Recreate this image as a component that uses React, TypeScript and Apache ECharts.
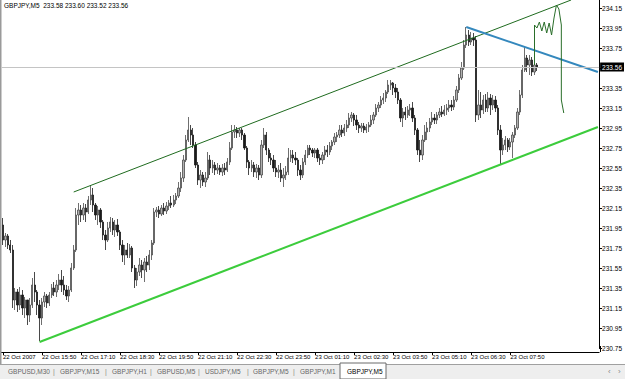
import React, { useEffect, useRef } from "react";
import * as echarts from "echarts";

const symbolTitle = "GBPJPY,M5  233.58 233.60 233.52 233.56";
const lastPrice = 233.56;

const timeTickLabels = [
  "22 Oct 2007", "22 Oct 15:50", "22 Oct 17:10", "22 Oct 18:30", "22 Oct 19:50",
  "22 Oct 21:10", "22 Oct 22:30", "22 Oct 23:50", "23 Oct 01:10", "23 Oct 02:30",
  "23 Oct 03:50", "23 Oct 05:10", "23 Oct 06:30", "23 Oct 07:50",
];

// [open, close, low, high]
const ohlc: number[][] = [
  [231.98,231.83,231.78,232.05],[231.83,231.87,231.76,231.90],[231.87,231.78,231.74,231.89],[231.78,231.73,231.70,231.83],
  [231.73,231.23,231.15,231.78],[231.23,231.31,231.13,231.35],[231.31,231.18,231.11,231.34],[231.18,231.28,231.13,231.36],
  [231.28,231.15,231.08,231.33],[231.15,231.23,231.05,231.26],[231.23,231.08,230.98,231.21],[231.08,231.18,231.01,231.25],
  [231.18,231.38,231.15,231.45],[231.38,231.31,231.21,231.51],[231.31,231.18,231.08,231.33],[231.18,231.05,230.82,231.23],
  [231.05,231.21,230.98,231.25],[231.21,231.27,231.16,231.31],[231.27,231.20,231.15,231.29],[231.20,231.28,231.17,231.31],
  [231.28,231.35,231.25,231.39],[231.35,231.31,231.27,231.41],[231.31,231.38,231.26,231.43],[231.38,231.43,231.33,231.49],
  [231.43,231.38,231.31,231.53],[231.38,231.33,231.28,231.47],[231.33,231.27,231.23,231.38],[231.27,231.33,231.21,231.37],
  [231.33,231.55,231.31,231.60],[231.55,231.73,231.53,231.78],[231.73,232.08,231.71,232.15],[232.08,232.13,231.98,232.20],
  [232.13,232.08,232.01,232.18],[232.08,232.15,232.03,232.20],[232.15,232.11,232.01,232.19],[232.11,232.23,232.09,232.27],
  [232.23,232.28,232.18,232.38],[232.28,232.18,232.11,232.35],[232.18,232.08,232.03,232.20],[232.08,232.13,231.98,232.17],
  [232.13,232.01,231.95,232.15],[232.01,231.88,231.83,232.03],[231.88,231.83,231.73,231.93],[231.83,231.95,231.81,232.01],
  [231.95,232.01,231.91,232.06],[232.01,231.93,231.88,232.05],[231.93,231.98,231.86,232.03],[231.98,231.91,231.87,232.04],
  [231.91,231.78,231.73,231.93],[231.78,231.68,231.61,231.83],[231.68,231.73,231.58,231.78],[231.73,231.68,231.65,231.80],
  [231.68,231.75,231.65,231.79],[231.75,231.55,231.51,231.77],[231.55,231.43,231.35,231.58],[231.43,231.51,231.37,231.55],
  [231.51,231.58,231.47,231.65],[231.58,231.53,231.45,231.63],[231.53,231.61,231.41,231.65],[231.61,231.58,231.51,231.67],
  [231.58,231.68,231.53,231.73],[231.68,231.80,231.63,231.83],[231.80,232.11,231.78,232.15],[232.11,232.13,232.06,232.16],
  [232.13,232.09,232.05,232.17],[232.09,232.15,232.07,232.18],[232.15,232.12,232.08,232.20],[232.12,232.17,232.09,232.21],
  [232.17,232.20,232.13,232.23],[232.20,232.18,232.15,232.27],[232.18,232.23,232.16,232.28],[232.23,232.27,232.19,232.30],
  [232.27,232.35,232.25,232.41],[232.35,232.45,232.31,232.51],[232.45,232.63,232.41,232.68],[232.63,232.83,232.61,232.88],
  [232.83,232.93,232.81,233.06],[232.93,232.88,232.78,232.98],[232.88,232.78,232.75,232.95],[232.78,232.58,232.55,232.81],
  [232.58,232.43,232.38,232.61],[232.43,232.48,232.35,232.53],[232.48,232.41,232.37,232.51],[232.41,232.45,232.36,232.51],
  [232.45,232.63,232.43,232.71],[232.63,232.55,232.48,232.68],[232.55,232.58,232.50,232.63],[232.58,232.53,232.48,232.61],
  [232.53,232.55,232.49,232.60],[232.55,232.51,232.48,232.58],[232.51,232.55,232.47,232.59],[232.55,232.53,232.48,232.60],
  [232.53,232.61,232.51,232.65],[232.61,232.75,232.58,232.81],[232.75,232.91,232.73,232.98],[232.91,232.93,232.85,232.98],
  [232.93,232.90,232.85,232.96],[232.90,232.93,232.86,232.95],[232.93,232.88,232.83,232.95],[232.88,232.75,232.73,232.90],
  [232.75,232.61,232.55,232.77],[232.61,232.55,232.48,232.63],[232.55,232.58,232.51,232.63],[232.58,232.51,232.46,232.61],
  [232.51,232.55,232.45,232.59],[232.55,232.48,232.43,232.58],[232.48,232.78,232.45,232.83],[232.78,232.88,232.75,232.95],
  [232.88,232.73,232.68,232.91],[232.73,232.65,232.61,232.75],[232.65,232.63,232.58,232.70],[232.63,232.55,232.51,232.68],
  [232.55,232.51,232.46,232.63],[232.51,232.53,232.45,232.58],[232.53,232.45,232.41,232.60],[232.45,232.48,232.36,232.55],
  [232.48,232.51,232.43,232.57],[232.51,232.65,232.48,232.75],[232.65,232.68,232.61,232.73],[232.68,232.65,232.60,232.73],
  [232.65,232.63,232.58,232.71],[232.63,232.53,232.47,232.65],[232.53,232.48,232.43,232.58],[232.48,232.61,232.45,232.65],
  [232.61,232.68,232.58,232.73],[232.68,232.75,232.65,232.78],[232.75,232.73,232.68,232.78],[232.73,232.70,232.66,232.75],
  [232.70,232.73,232.65,232.75],[232.73,232.65,232.61,232.75],[232.65,232.63,232.58,232.69],[232.63,232.68,232.59,232.71],
  [232.68,232.73,232.63,232.77],[232.73,232.71,232.66,232.78],[232.71,232.77,232.68,232.81],[232.77,232.81,232.73,232.83],
  [232.81,232.86,232.78,232.90],[232.86,232.88,232.81,232.91],[232.88,232.93,232.85,232.98],[232.93,232.90,232.86,232.98],
  [232.90,232.95,232.87,232.99],[232.95,232.98,232.91,233.03],[232.98,233.05,232.95,233.10],[233.05,233.08,233.01,233.11],
  [233.08,233.03,232.97,233.10],[233.03,232.98,232.93,233.08],[232.98,232.95,232.90,233.01],[232.95,232.97,232.91,233.00],
  [232.97,232.93,232.90,233.00],[232.93,232.96,232.90,232.99],[232.96,232.98,232.91,233.01],[232.98,233.03,232.96,233.08],
  [233.03,233.08,232.99,233.11],[233.08,233.15,233.06,233.19],[233.15,233.18,233.11,233.21],[233.18,233.23,233.15,233.27],
  [233.23,233.25,233.19,233.30],[233.25,233.31,233.21,233.33],[233.31,233.38,233.29,233.43],[233.38,233.40,233.33,233.43],
  [233.40,233.35,233.28,233.41],[233.35,233.31,233.25,233.39],[233.31,233.23,233.19,233.35],[233.23,233.05,233.01,233.25],
  [233.05,233.11,232.96,233.15],[233.11,233.08,233.03,233.16],[233.08,233.13,233.05,233.17],[233.13,233.15,233.07,233.19],
  [233.15,233.05,233.01,233.21],[233.05,232.93,232.88,233.08],[232.93,232.73,232.68,232.95],[232.73,232.68,232.61,232.83],
  [232.68,232.83,232.63,232.88],[232.83,232.91,232.81,232.98],[232.91,232.95,232.83,233.01],[232.95,233.01,232.91,233.05],
  [233.01,233.05,232.98,233.11],[233.05,233.03,232.99,233.09],[233.03,233.08,232.99,233.11],[233.08,233.11,233.05,233.15],
  [233.11,233.09,233.06,233.17],[233.09,233.13,233.07,233.18],[233.13,233.15,233.08,233.19],[233.15,233.18,233.11,233.23],
  [233.18,233.16,233.12,233.23],[233.16,233.23,233.13,233.27],[233.23,233.33,233.21,233.37],[233.33,233.45,233.30,233.49],
  [233.45,233.55,233.43,233.61],[233.55,233.78,233.53,233.83],[233.78,233.88,233.75,233.96],[233.88,233.81,233.77,233.93],
  [233.81,233.85,233.78,233.91],[233.85,233.83,233.77,233.90],[233.83,233.08,233.01,233.87],[233.08,233.18,233.03,233.33],
  [233.18,233.13,233.05,233.31],[233.13,233.23,233.09,233.28],[233.23,233.15,233.11,233.29],[233.15,233.25,233.11,233.31],
  [233.25,233.18,233.08,233.29],[233.18,233.23,233.13,233.28],[233.23,233.15,233.11,233.27],[233.15,232.93,232.88,233.18],
  [232.93,232.73,232.59,232.98],[232.73,232.78,232.68,232.85],[232.78,232.83,232.73,232.87],[232.83,232.76,232.71,232.85],
  [232.76,232.81,232.73,232.85],[232.81,232.88,232.65,232.91],[232.88,232.95,232.85,232.98],[232.95,233.11,232.93,233.15],
  [233.11,233.28,233.08,233.33],[233.28,233.53,233.25,233.58],[233.53,233.65,233.51,233.76],[233.65,233.58,233.51,233.68],
  [233.58,233.63,233.48,233.68],[233.63,233.51,233.47,233.66],[233.51,233.58,233.48,233.65],[233.58,233.56,233.52,233.60],
];

// trend lines: [bar index, price]
const trendLower = [[15, 230.81], [244, 232.96]];
const trendUpper = [[29, 232.31], [233, 234.23]];
const trendBlue = [[190, 233.96], [244, 233.51]];
const sketch = [
  [218, 233.58], [218, 233.98], [219, 233.95], [220, 234.01], [221, 233.92], [222, 234.01],
  [223, 233.90], [224, 234.0], [225, 233.88], [226, 234.05], [227, 234.18], [228, 234.14],
  [229, 233.98], [229, 233.23], [230, 233.10],
];

const tabNames = ["GBPUSD,M30", "GBPJPY,M15", "GBPJPY,H1", "GBPUSD,M5", "USDJPY,M5", "GBPJPY,M5", "GBPJPY,M1", "GBPJPY,M5"];

const TOTAL_SLOTS = 245;
const START_MIN = 14 * 60 + 30;
const categories = Array.from({ length: TOTAL_SLOTS }, (_, i) => {
  const m = START_MIN + i * 5;
  const day = 22 + Math.floor(m / 1440);
  const hh = Math.floor((m % 1440) / 60);
  const mm = m % 60;
  return `${day} Oct ${String(hh).padStart(2, "0")}:${String(mm).padStart(2, "0")}`;
});

const FONT = "Liberation Sans";

export default function App() {
  const ref = useRef<HTMLDivElement>(null);
  useEffect(() => {
    if (!ref.current) return;
    const chart = echarts.init(ref.current, null, { renderer: "svg" });
    const tickShown = (idx: number) => idx % 16 === 0 && idx / 16 < timeTickLabels.length;

    const tabX = [8, 60, 112, 157, 205, 253, 300, 347];
    const sepX = [53, 105, 150, 198, 247, 293];
    const graphic: any[] = [
      { type: "rect", shape: { x: 0, y: 0, width: 1.5, height: 364 }, style: { fill: "#9a9a9a" }, silent: true },
      { type: "line", shape: { x1: 600.5, y1: 346, x2: 600.5, y2: 352 }, style: { stroke: "#000", lineWidth: 1 }, silent: true },
      { type: "rect", shape: { x: 0, y: 364, width: 625, height: 15 }, style: { fill: "#eeeeee" }, silent: true },
      { type: "line", shape: { x1: 0, y1: 364.5, x2: 625, y2: 364.5 }, style: { stroke: "#a0a0a0", lineWidth: 1 }, silent: true },
      { type: "rect", shape: { x: 340, y: 363, width: 46, height: 16 }, style: { fill: "#ffffff", stroke: "#6a6a6a", lineWidth: 1 }, silent: true },
    ];
    tabNames.forEach((t, i) => {
      graphic.push({
        type: "text", x: tabX[i], y: 371, silent: true,
        style: { text: t, fill: i === tabNames.length - 1 ? "#000" : "#666", font: `6.5px ${FONT}`, textVerticalAlign: "middle" },
      });
    });
    sepX.forEach((x) => {
      graphic.push({ type: "text", x, y: 371, silent: true, style: { text: "|", fill: "#888", font: `7px ${FONT}`, textVerticalAlign: "middle" } });
    });
    graphic.push({ type: "text", x: 608, y: 371, silent: true, style: { text: "‹", fill: "#888", font: `8px ${FONT}`, textVerticalAlign: "middle" } });
    graphic.push({ type: "text", x: 618, y: 371, silent: true, style: { text: "›", fill: "#888", font: `8px ${FONT}`, textVerticalAlign: "middle" } });

    const lineSeries = (data: number[][], color: string, width: number, z: number) => ({
      type: "line", data, showSymbol: false, symbol: "none", silent: true, z,
      lineStyle: { color, width }, clip: true,
    });

    chart.setOption({
      animation: false,
      backgroundColor: "#ffffff",
      title: {
        text: symbolTitle, left: 4, top: 2, padding: 0,
        textStyle: { fontSize: 6.5, fontWeight: "normal", color: "#000", fontFamily: FONT },
      },
      grid: { left: 1, right: 25, top: 0, bottom: 31 },
      xAxis: {
        type: "category", data: categories, boundaryGap: true, offset: 4,
        axisLine: { show: true, lineStyle: { color: "#000", width: 1 } },
        axisTick: { show: true, interval: (idx: number) => tickShown(idx), alignWithLabel: true, length: 3, lineStyle: { color: "#000" } },
        axisLabel: {
          interval: (idx: number) => tickShown(idx),
          formatter: (_v: string, idx: number) => timeTickLabels[idx / 16] ?? "",
          align: "left", margin: 2, fontSize: 6, color: "#000", fontFamily: FONT,
        },
        splitLine: { show: false },
      },
      yAxis: {
        type: "value", position: "right", min: 230.75, max: 234.23, interval: 0.2, scale: true,
        axisLine: { show: true, lineStyle: { color: "#000", width: 1 } },
        axisTick: { show: true, length: 3, lineStyle: { color: "#000" } },
        axisLabel: {
          formatter: (v: number) => v.toFixed(2), margin: 3, fontSize: 6.5, color: "#000",
          fontFamily: FONT, showMaxLabel: false,
        },
        splitLine: { show: false },
      },
      series: [
        {
          type: "candlestick", data: ohlc, barWidth: 1.8, z: 3,
          itemStyle: { color: "#b0b0b0", color0: "#1a1a1a", borderColor: "#4a4a4a", borderColor0: "#1a1a1a", borderWidth: 0.8 },
          markLine: {
            silent: true, symbol: ["none", "none"], animation: false,
            lineStyle: { color: "#c4c4c4", width: 1, type: "solid" },
            label: {
              show: true, position: "end", formatter: lastPrice.toFixed(2), distance: 1,
              backgroundColor: "#000", color: "#fff", fontSize: 6.5, fontFamily: FONT, padding: [1, 2],
            },
            data: [{ yAxis: lastPrice }],
          },
        },
        lineSeries(trendLower, "#3ccc3c", 2, 4),
        lineSeries(trendUpper, "#1f6b1f", 1, 4),
        lineSeries(trendBlue, "#3488bd", 2, 4),
        lineSeries(sketch, "#2a6e2a", 1, 5),
      ],
      graphic,
    });
    return () => chart.dispose();
  }, []);
  return <div ref={ref} style={{ position: "fixed", left: 0, top: 0, width: 625, height: 379 }} />;
}
